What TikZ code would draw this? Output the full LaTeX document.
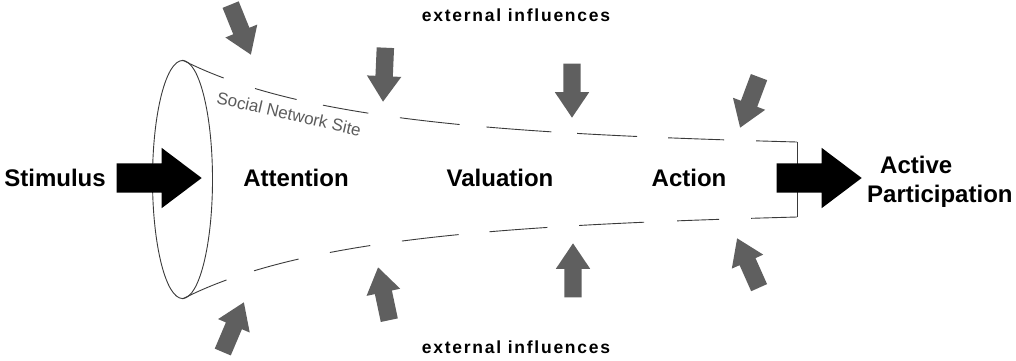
\documentclass[tikz,border=0pt]{standalone}
\usepackage{fontspec}
\setmainfont{Liberation Sans}
\newfontfamily\trackfont{Liberation Sans}[LetterSpace=10]
\usetikzlibrary{shapes.geometric,shapes.arrows}
\definecolor{arrgray}{HTML}{5F5F5F}
\definecolor{linegray}{HTML}{3A3A3A}
\definecolor{txtgray}{HTML}{5C5C5C}
\newcommand{\gshaft}{\rule[-8.5pt]{0pt}{17pt}}
\newcommand{\bshaft}{\rule[-14.5pt]{0pt}{29pt}}
\tikzset{
  funnel/.style={draw=linegray, line width=0.9pt},
  garrow/.style={single arrow, fill=arrgray, draw=none, inner sep=0pt,
    minimum height=54pt, single arrow head extend=8.5pt,
    single arrow tip angle=68, anchor=tip},
  barrow/.style={single arrow, fill=black, draw=none, inner sep=0pt,
    minimum height=85pt, single arrow head extend=15.5pt,
    single arrow tip angle=74, anchor=tip},
  stage/.style={font=\bfseries\fontsize{24}{28}\selectfont, anchor=base, inner sep=0pt},
  extinf/.style={font=\trackfont\bfseries\fontsize{17.5}{20}\selectfont, anchor=base, inner sep=0pt},
}
\begin{document}
\begin{tikzpicture}[x=1pt, y=-1pt]
\useasboundingbox (0,0) rectangle (1016,360);
% mouth of the funnel
\node[ellipse, funnel, minimum width=60pt, minimum height=238pt, inner sep=0pt] (mouth) at (182.5,179.5) {};
\coordinate (tr) at (797,142);
\coordinate (br) at (797,217);
\draw[funnel, dash pattern=on 45pt off 33pt on 43pt off 27pt on 46pt off 32pt on 60pt off 27pt on 65pt off 26pt on 60pt off 31pt on 56pt off 32pt on 80pt]
  (mouth.north) .. controls (300,120) and (500,134) .. (tr);
\draw[funnel, dash pattern=on 48pt off 29pt on 46pt off 32pt on 41pt off 32pt on 57pt off 31pt on 58pt off 32pt on 65pt off 33pt on 42pt off 32pt on 80pt]
  (mouth.south) .. controls (300,239) and (500,225) .. (br);
\draw[funnel] (tr) -- (br);
% label on the funnel
\node[text=txtgray, font=\fontsize{17}{19}\selectfont, rotate=-13, inner sep=0pt] (sns) at (289,114) {Social Network Site};
% stages
\node[stage] (stim) at (55,186) {Stimulus};
\node[stage] (att) at (296,186) {Attention};
\node[stage] (val) at (500,186) {Valuation};
\node[stage] (act) at (689,186) {Action};
\node[stage, anchor=base west] (active) at (880,173) {Active};
\node[stage, anchor=base west] (partic) at (867,202) {Participation};
% black arrows
\node[barrow] (inarrow) at (202,178) {\bshaft};
\node[barrow] (outarrow) at (862,178) {\bshaft};
% external influences
\node[extinf] (exttop) at (516,21) {external influences};
\node[extinf] (extbot) at (516,353) {external influences};
% gray arrows, top
\node[garrow, rotate=-68] (a1) at (251,55) {\gshaft};
\node[garrow, rotate=-92.5] (a2) at (383,102) {\gshaft};
\node[garrow, rotate=-90] (a3) at (572,118) {\gshaft};
\node[garrow, rotate=-110.5] (a4) at (740,128) {\gshaft};
% gray arrows, bottom
\node[garrow, rotate=67] (b1) at (244,302) {\gshaft};
\node[garrow, rotate=102] (b2) at (378,267) {\gshaft};
\node[garrow, rotate=90] (b3) at (573,243) {\gshaft};
\node[garrow, rotate=114] (b4) at (737,238) {\gshaft};
\end{tikzpicture}
\end{document}
